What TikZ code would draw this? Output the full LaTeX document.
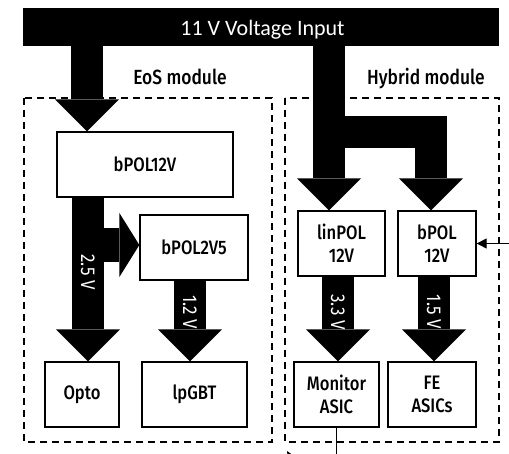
\documentclass[tikz,border=0pt]{standalone}
\usepackage{fontspec}
\setmainfont{Carlito}
\IfFontExistsTF{Fira Sans Medium}{\newfontfamily\cond[FakeStretch=0.85]{Fira Sans Medium}}{\newfontfamily\cond[FakeStretch=0.85]{Fira Sans}}
\newfontfamily\condlight[FakeStretch=0.85]{Fira Sans}
\usetikzlibrary{arrows.meta,calc}
\tikzset{
  box/.style={draw, line width=1.3pt, fill=white, minimum height=65pt, inner sep=0pt, align=center,
    font=\cond\fontsize{19.5}{23}\selectfont},
  fat/.style={line width=32pt, line join=miter, -{Triangle[width=64pt,length=32pt,line width=0pt]}},
  fatside/.style={line width=34pt, -{Triangle[width=64pt,length=20pt,line width=0pt]}},
  lbl/.style={text=white, rotate=-90, font=\condlight\fontsize{20}{24}\selectfont, inner sep=0pt},
  module/.style={draw, dashed, dash pattern=on 7pt off 5pt, line width=1.3pt},
  modlabel/.style={font=\cond\fontsize{20.5}{24}\selectfont, inner sep=0pt, anchor=base},
  thinarrow/.style={line width=1pt, -{Triangle[length=10pt,width=10pt]}}
}
\begin{document}
\begin{tikzpicture}[x=1pt,y=-1pt]
\useasboundingbox (0,0) rectangle (509,454);
\clip (0,0) rectangle (509,454);
% banner
\node[fill=black, minimum width=476pt, minimum height=38pt, inner sep=0pt, anchor=north west] (banner) at (23,8) {};
\node[text=white, font=\fontsize{22}{26}\selectfont, inner sep=0pt, anchor=base] (bannertext) at (262.5,35.5) {11 V Voltage Input};
% module frames
\draw[module] (24,98) rectangle (272,442);
\draw[module] (285,98) rectangle (499,442);
\node[modlabel] (eoslabel) at (180,85) {EoS module};
\node[modlabel] (hyblabel) at (426,85) {Hybrid module};
% boxes
\node[box, minimum width=176pt] (bpolA) at (145,164.5) {bPOL12V};
\node[box, minimum width=108pt] (bpolB) at (194,247.5) {bPOL2V5};
\node[box, minimum width=74pt] (opto) at (82,394.5) {Opto};
\node[box, minimum width=105pt] (lpgbt) at (194.5,394.5) {lpGBT};
\node[box, minimum width=87pt] (linpol) at (341.5,243.5) {linPOL\\12V};
\node[box, minimum width=78pt] (bpolC) at (437,243.5) {bPOL\\12V};
\node[box, minimum width=85pt] (monitor) at (336.5,394.5) {Monitor\\ASIC};
\node[box, minimum width=88pt] (fe) at (432,394.5) {FE\\ASICs};
% fat arrows
\coordinate (inA) at (87,40);
\coordinate (inB) at (329,40);
\coordinate (split) at (329,132);
\coordinate (side) at (88,245);
\draw[fat] (inA) -- (bpolA.north -| 87,0);
\draw[fat] (inB) -- (linpol.north -| 329,0);
\draw[fat] (split) -| (bpolC.north -| 431,0);
\draw[fat] (bpolA.south -| 88,0) -- (opto.north -| 88,0);
\draw[fatside] (side) -- (bpolB.west |- 0,245);
\draw[fat] (bpolB.south -| 190,0) -- (lpgbt.north -| 190,0);
\draw[fat] (linpol.south -| 338,0) -- (monitor.north -| 338,0);
\draw[fat] (bpolC.south -| 434,0) -- (fe.north -| 434,0);
% labels on arrows
\node[lbl] (l25) at (88,272) {2.5 V};
\node[lbl] (l12) at (190,312) {1.2 V};
\node[lbl] (l33) at (338,312) {3.3 V};
\node[lbl] (l15) at (434,312) {1.5 V};
% thin connectors
\coordinate (rin) at (512,243.5);
\draw[thinarrow] (rin) -- (bpolC.east);
\coordinate (mout) at (336.5,460);
\draw[line width=1pt] (monitor.south) -- (mout);
\coordinate (fragA) at (297,468);
\coordinate (fragB) at (287,451);
\draw[line width=1pt, -{Triangle[length=8pt,width=7pt]}] (fragA) -- (fragB);
\end{tikzpicture}
\end{document}
